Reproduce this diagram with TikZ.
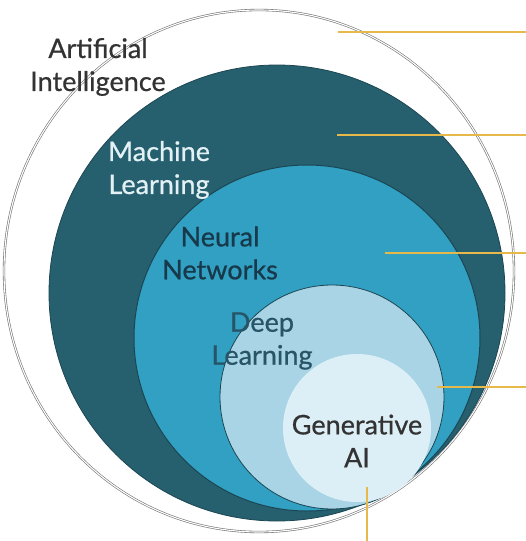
\documentclass[tikz,border=0pt]{standalone}
\usepackage{fontspec}
\setmainfont{Lato}[FakeBold=0.7]
\definecolor{mlcol}{HTML}{26606F}
\definecolor{nncol}{HTML}{31A0C3}
\definecolor{dlcol}{HTML}{A8D4E5}
\definecolor{gacol}{HTML}{DDEFF6}
\definecolor{rimcol}{HTML}{1C4652}
\definecolor{yel}{HTML}{E7B94A}
\definecolor{darktxt}{HTML}{333333}
\definecolor{nntxt}{HTML}{17394A}
\definecolor{dltxt}{HTML}{275466}
\definecolor{mltxt}{HTML}{E3F1F5}
\tikzset{
  lbl/.style={font=\fontsize{27}{33}\selectfont, align=center, inner sep=0pt},
  leader/.style={draw=yel, line width=1.6pt},
}
\begin{document}
\begin{tikzpicture}[x=1pt,y=-1pt]
\useasboundingbox (0,0) rectangle (526,541);
\fill[white] (0,0) rectangle (526,541);
% AI
\draw[draw=gray!90!black, double=white, line width=0.6pt, double distance=1.1pt] (259,271) ellipse [x radius=255, y radius=261];
% ML
\filldraw[fill=mlcol, draw=rimcol, line width=0.8pt] (277,293) circle [radius=228];
% NN
\filldraw[fill=nncol, draw=rimcol, line width=1pt] (307,338) circle [radius=173];
% DL
\filldraw[fill=dlcol, draw=rimcol, line width=0.8pt] (332,397) circle [radius=112];
% GenAI
\fill[gacol] (357,428) circle [radius=74];
% leader lines
\coordinate (a1) at (338,32);  \coordinate (a2) at (526,32);
\coordinate (m1) at (337,135); \coordinate (m2) at (526,135);
\coordinate (n1) at (385,253); \coordinate (n2) at (526,253);
\coordinate (d1) at (437,387); \coordinate (d2) at (526,387);
\coordinate (g1) at (367,487); \coordinate (g2) at (367,541);
\draw[leader] (a1) -- (a2);
\draw[leader] (m1) -- (m2);
\draw[leader] (n1) -- (n2);
\draw[leader] (d1) -- (d2);
\draw[leader] (g1) -- (g2);
% labels
\node[lbl, text=darktxt] (tai) at (98,67) {Artificial\\Intelligence};
\node[lbl, text=mltxt] (tml) at (159,170) {Machine\\Learning};
\node[lbl, text=nntxt] (tnn) at (220,253) {Neural\\Networks};
\node[lbl, text=dltxt] (tdl) at (262,341) {Deep\\Learning};
\node[lbl, text=darktxt] (tga) at (357,441) {Generative\\AI};
\end{tikzpicture}
\end{document}
